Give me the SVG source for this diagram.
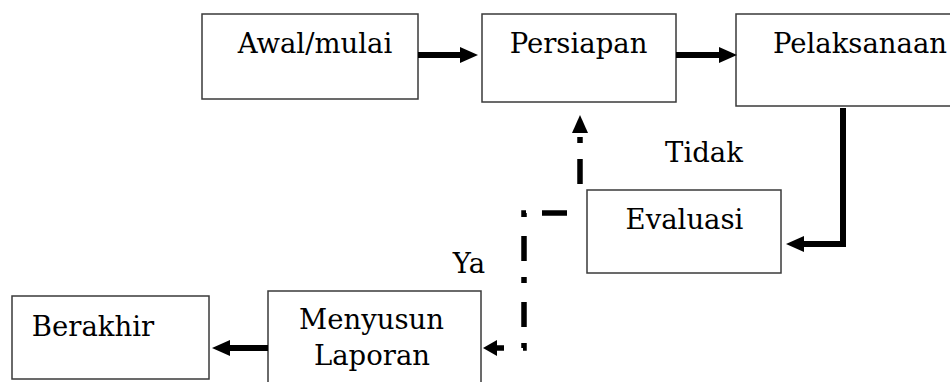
<svg xmlns="http://www.w3.org/2000/svg" width="950" height="382" viewBox="0 0 950 382">
  <defs>
    <style>
      .box { fill: #ffffff; stroke: #3a3a3a; stroke-width: 1.5; }
      .lbl { font-family: "DejaVu Serif", "Liberation Serif", serif; font-size: 27.5px; fill: #000000; text-anchor: middle; }
      .solid { fill: none; stroke: #000000; stroke-width: 6; stroke-linejoin: miter; }
      .dash { fill: none; stroke: #000000; stroke-width: 5.5; stroke-dasharray: 25 16 6 19; stroke-linejoin: miter; }
    </style>
    <marker id="ah" viewBox="0 0 18 16" refX="0" refY="8" markerWidth="18" markerHeight="16" markerUnits="userSpaceOnUse" orient="auto">
      <path d="M0,0 L18,8 L0,16 Z" fill="#000000"/>
    </marker>
    <marker id="ahs" viewBox="0 0 14 16" refX="0" refY="8" markerWidth="14" markerHeight="16" markerUnits="userSpaceOnUse" orient="auto">
      <path d="M0,0 L14,8 L0,16 Z" fill="#000000"/>
    </marker>
  </defs>
  <rect width="950" height="382" fill="#ffffff"/>

  <g id="node-awal">
    <rect class="box" x="202" y="14" width="216" height="85"/>
    <text class="lbl" x="315" y="53">Awal/mulai</text>
  </g>
  <g id="node-persiapan">
    <rect class="box" x="482" y="14" width="194" height="88"/>
    <text class="lbl" x="578.5" y="53">Persiapan</text>
  </g>
  <g id="node-pelaksanaan">
    <rect class="box" x="736" y="14" width="230" height="92"/>
    <text class="lbl" x="860" y="53">Pelaksanaan</text>
  </g>
  <g id="node-evaluasi">
    <rect class="box" x="587" y="190" width="194" height="83"/>
    <text class="lbl" x="684.5" y="229">Evaluasi</text>
  </g>
  <g id="node-menyusun">
    <rect class="box" x="268" y="291" width="213" height="100"/>
    <text class="lbl" x="371.5" y="329">Menyusun</text>
    <text class="lbl" x="372" y="365">Laporan</text>
  </g>
  <g id="node-berakhir">
    <rect class="box" x="12" y="296" width="197" height="83"/>
    <text class="lbl" x="93" y="336">Berakhir</text>
  </g>

  <g id="connectors">
    <path class="solid" d="M418,55 H460" marker-end="url(#ah)"/>
    <path class="solid" d="M676,55 H719" marker-end="url(#ah)"/>
    <path class="solid" d="M843,108 V244 H804" marker-end="url(#ah)"/>
    <path class="solid" d="M268,348 H230" marker-end="url(#ah)"/>
    <path class="dash" d="M580,184 V133" marker-end="url(#ah)"/>
    <path class="dash" d="M567,213 H524 V348 H497" marker-end="url(#ahs)"/>
    <text class="lbl" x="704" y="162">Tidak</text>
    <text class="lbl" x="469" y="273">Ya</text>
  </g>
</svg>
